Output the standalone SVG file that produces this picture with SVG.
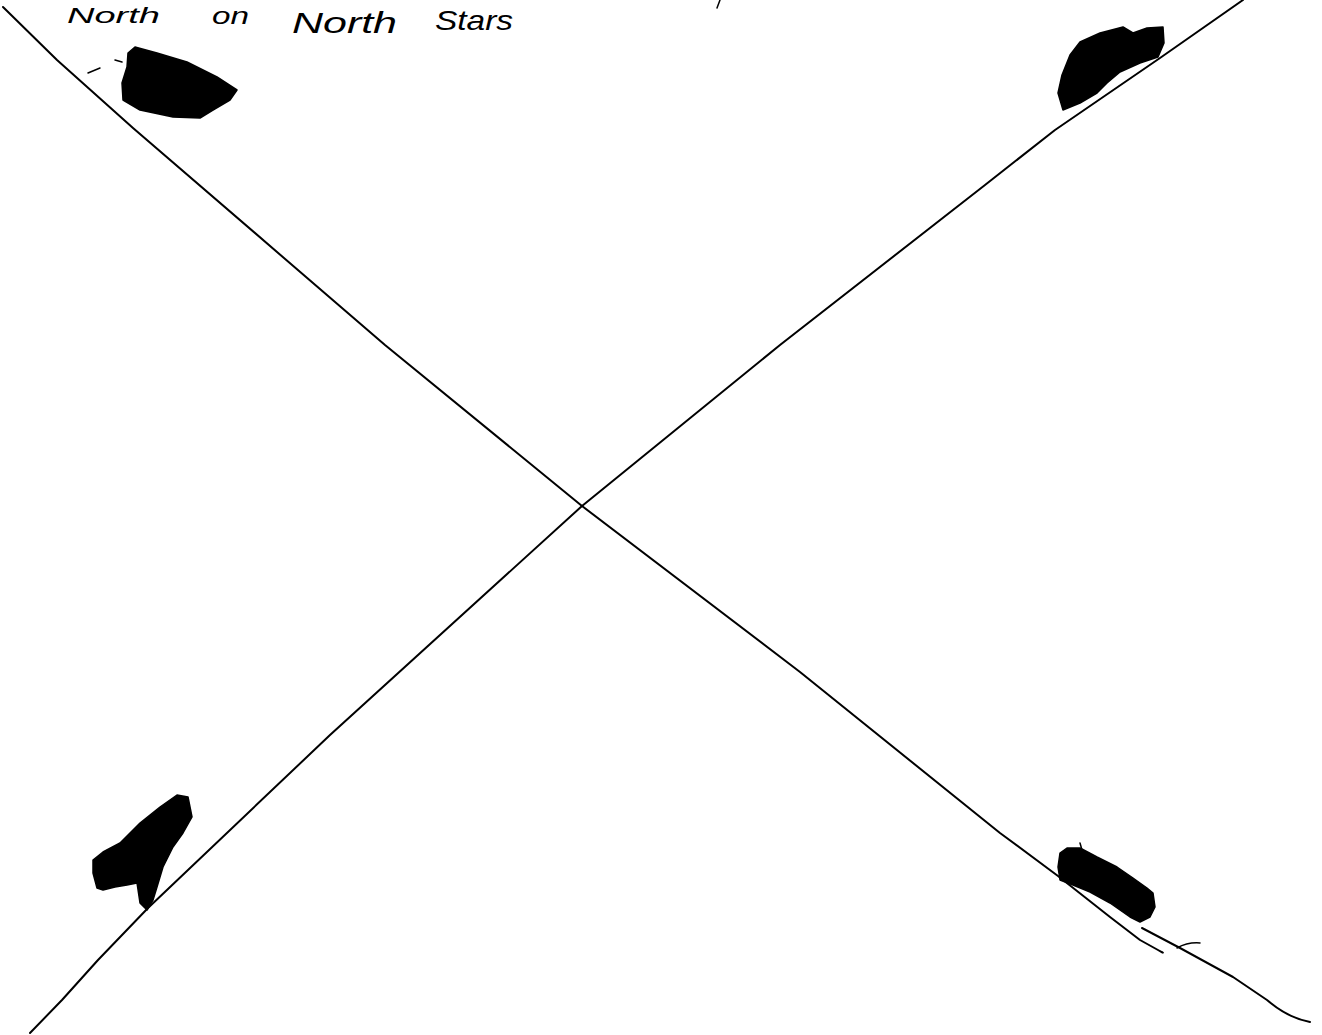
<svg xmlns="http://www.w3.org/2000/svg" width="1322" height="1035" viewBox="0 0 1322 1035">
<style>
.ln{fill:none;stroke:#000;stroke-width:2;stroke-linecap:round;stroke-linejoin:round}
.thin{fill:none;stroke:#000;stroke-width:1.5;stroke-linecap:round}
.blob{fill:#000;stroke:#000;stroke-width:1.5;stroke-linejoin:round}
.hand{font-family:"Liberation Sans","DejaVu Sans",sans-serif;font-style:italic;fill:#000}
</style>
<rect width="1322" height="1035" fill="#fff"/>
<g id="labels">
<text class="hand" x="67" y="23" font-size="22" textLength="93" lengthAdjust="spacingAndGlyphs">North</text>
<text class="hand" x="212" y="24" font-size="24" textLength="37" lengthAdjust="spacingAndGlyphs">on</text>
<text class="hand" x="292" y="33" font-size="30" textLength="105" lengthAdjust="spacingAndGlyphs">North</text>
<text class="hand" x="435" y="30" font-size="28" textLength="78" lengthAdjust="spacingAndGlyphs">Stars</text>
</g>
<g id="connectors">
<path class="ln" d="M3,7 L57,60 L133,128 L385,345 L582,506 L800,672 L1000,833 L1058,876 L1110,917 L1140,940 L1158,950 Q1165,954 1162,952"/>
<path class="ln" d="M1142,928 L1180,948 L1233,977 L1267,1000 Q1288,1018 1310,1022"/>
<path class="thin" d="M1177,948 Q1188,942 1200,943"/>
<path class="ln" d="M30,1033 L62,1000 L98,960 L148,908 L330,735 L582,506 L780,345 L985,185 L1055,130 L1160,58 L1243,0"/>
<path class="thin" d="M88,73 L100,68 M115,60 L122,62 M717,8 L720,0"/>
</g>
<g id="blob-top-left">
<path class="blob" d="M135,47 L157,53 L187,62 L217,77 L237,90 L230,100 L213,110 L200,118 L173,117 L140,110 L123,100 L122,83 L127,67 L128,53 Z"/>
</g>
<g id="blob-top-right">
<path class="blob" d="M1062,75 L1070,55 L1080,42 L1100,33 L1123,27 L1133,33 L1147,28 L1163,27 L1164,43 L1158,57 L1140,63 L1120,72 L1107,83 L1097,93 L1080,103 L1063,110 L1058,93 Z"/>
</g>
<g id="blob-bottom-left">
<path class="blob" d="M93,860 L103,852 L120,843 L140,823 L160,807 L177,795 L188,797 L192,817 L183,833 L173,847 L163,867 L157,887 L153,900 L147,910 L140,903 L137,883 L127,885 L115,887 L103,890 L97,888 L93,873 Z"/>
</g>
<g id="blob-bottom-right">
<path class="blob" d="M1060,853 L1067,848 L1080,848 L1097,857 L1117,867 L1133,878 L1147,888 L1153,893 L1155,907 L1150,917 L1140,922 L1130,917 L1110,903 L1090,892 L1073,885 L1060,880 L1058,867 Z"/>
<path class="thin" d="M1080,843 L1082,850"/>
</g>
</svg>
